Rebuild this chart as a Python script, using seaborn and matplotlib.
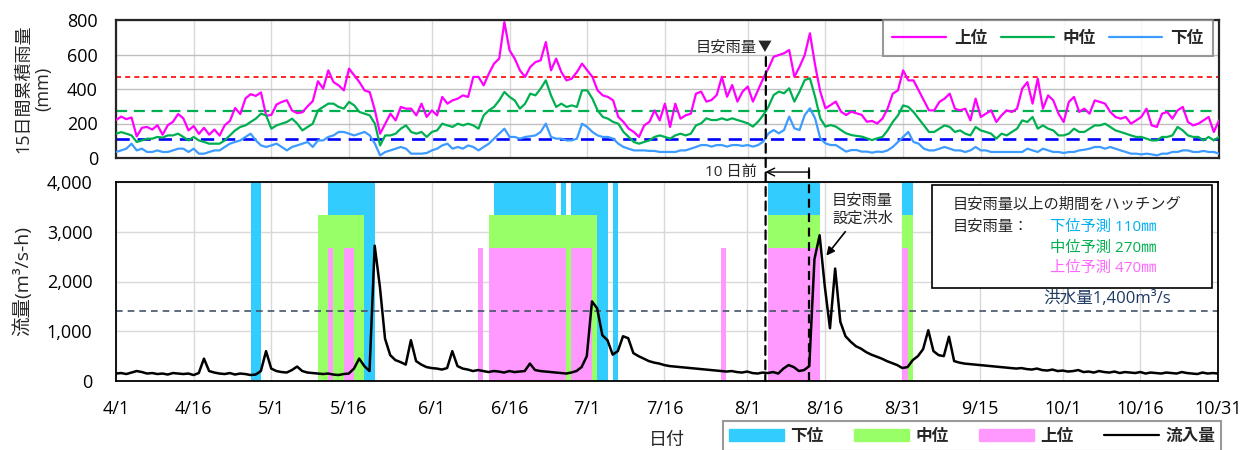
import numpy as np
import pandas as pd
import matplotlib
matplotlib.use("Agg")
import matplotlib.pyplot as plt
import seaborn as sns
from matplotlib.patches import ConnectionPatch, Patch, Rectangle
from matplotlib.lines import Line2D
from matplotlib.ticker import FuncFormatter

# ---------------- data ----------------
YEAR = 2019
start_md = "4/1"
tick_labels = ["4/1", "4/16", "5/1", "5/16", "6/1", "6/16", "7/1", "7/16",
               "8/1", "8/16", "8/31", "9/15", "10/1", "10/16", "10/31"]
series_names = ["上位", "中位", "下位"]

# 15-day accumulated rainfall (mm), daily from 4/1 to 10/31
rain_upper = [
    220, 240, 225, 235, 125, 175, 180, 165, 190, 135,
    190, 210, 255, 230, 160, 185, 140, 175, 135, 165,
    130, 190, 215, 290, 255, 345, 370, 360, 380, 245,
    250, 310, 325, 335, 275, 260, 265, 300, 330, 445,
    402, 508, 440, 421, 392, 518, 479, 440, 392, 382,
    276, 141, 199, 257, 218, 296, 286, 286, 247, 315,
    238, 276, 247, 354, 315, 334, 344, 363, 354, 470,
    470, 421, 489, 547, 576, 788, 624, 576, 508, 470,
    528, 556, 566, 672, 508, 576, 498, 450, 460, 498,
    547, 508, 470, 392, 363, 354, 334, 238, 209, 170,
    151, 122, 189, 209, 276, 218, 315, 180, 315, 228,
    247, 257, 373, 385, 327, 336, 365, 471, 355, 423,
    327, 385, 414, 327, 394, 462, 520, 587, 597, 607,
    626, 471, 529, 597, 723, 539, 385, 288, 307, 327,
    269, 249, 269, 259, 250, 210, 215, 200, 228, 286,
    373, 392, 508, 450, 450, 392, 334, 276, 276, 325,
    344, 373, 286, 276, 286, 218, 344, 238, 257, 276,
    209, 247, 276, 267, 286, 402, 440, 315, 460, 286,
    363, 334, 257, 209, 325, 354, 267, 286, 257, 334,
    325, 315, 267, 238, 228, 238, 199, 218, 238, 286,
    189, 180, 257, 267, 228, 276, 296, 209, 189, 199,
    218, 238, 151, 218]
rain_middle = [
    141, 150, 141, 131, 93, 102, 112, 112, 122, 118,
    131, 131, 141, 122, 102, 122, 102, 93, 83, 83,
    83, 102, 131, 160, 180, 189, 209, 228, 257, 247,
    170, 189, 199, 209, 228, 199, 160, 180, 199, 276,
    296, 315, 315, 296, 286, 325, 305, 267, 257, 247,
    199, 73, 131, 131, 141, 170, 189, 151, 141, 151,
    122, 151, 160, 199, 189, 180, 199, 189, 199, 189,
    170, 247, 276, 296, 334, 383, 354, 334, 286, 315,
    373, 363, 402, 450, 363, 296, 315, 296, 305, 296,
    392, 392, 344, 276, 238, 228, 209, 199, 151, 122,
    93, 83, 93, 102, 122, 131, 122, 112, 131, 141,
    131, 141, 189, 201, 230, 220, 220, 230, 220, 230,
    220, 211, 201, 182, 211, 249, 298, 365, 385, 375,
    404, 327, 385, 452, 462, 355, 230, 182, 191, 182,
    162, 143, 133, 128, 124, 114, 104, 114, 122, 160,
    209, 247, 305, 296, 267, 228, 189, 151, 151, 170,
    189, 180, 151, 160, 141, 131, 180, 160, 151, 141,
    112, 141, 131, 151, 170, 218, 209, 238, 170, 189,
    170, 160, 131, 131, 141, 170, 151, 151, 170, 189,
    189, 199, 180, 160, 151, 141, 131, 122, 122, 112,
    102, 102, 122, 122, 131, 180, 160, 131, 122, 122,
    102, 122, 102, 122]
rain_lower = [
    35, 44, 54, 83, 44, 54, 35, 35, 44, 35,
    35, 44, 54, 54, 35, 54, 25, 25, 35, 44,
    44, 64, 83, 93, 102, 122, 141, 102, 73, 64,
    73, 83, 64, 44, 64, 73, 83, 93, 64, 102,
    102, 122, 131, 151, 151, 141, 131, 141, 151, 131,
    83, 15, 35, 44, 54, 64, 54, 25, 25, 25,
    29, 44, 54, 73, 83, 54, 64, 54, 73, 64,
    44, 64, 83, 112, 141, 170, 122, 122, 112, 122,
    126, 131, 151, 199, 122, 112, 112, 102, 102, 112,
    199, 180, 151, 131, 122, 122, 112, 83, 64, 54,
    44, 44, 44, 41, 41, 35, 35, 35, 35, 44,
    44, 54, 64, 75, 75, 66, 75, 75, 66, 75,
    75, 70, 75, 66, 75, 95, 143, 162, 143, 162,
    240, 172, 162, 249, 288, 230, 114, 85, 75, 75,
    56, 37, 46, 46, 37, 37, 31, 37, 35, 44,
    64, 93, 122, 151, 93, 83, 54, 44, 44, 54,
    64, 54, 44, 44, 35, 44, 64, 44, 44, 35,
    35, 35, 35, 35, 35, 35, 54, 44, 35, 54,
    44, 35, 35, 29, 35, 35, 44, 48, 54, 64,
    64, 54, 64, 54, 44, 35, 25, 25, 21, 25,
    21, 15, 25, 25, 35, 35, 44, 44, 35, 35,
    41, 35, 35, 25]

# inflow (m3/s), daily
inflow = [
    150, 160, 140, 170, 200, 180, 150, 160, 140, 150,
    130, 160, 150, 140, 150, 120, 160, 450, 200, 170,
    150, 140, 160, 130, 150, 140, 120, 130, 200, 600,
    250, 200, 180, 170, 220, 290, 200, 170, 160, 150,
    140, 150, 130, 120, 140, 150, 250, 450, 300, 200,
    2720, 1900, 850, 520, 420, 380, 330, 820, 400, 330,
    280, 260, 250, 230, 260, 600, 300, 250, 230, 200,
    220, 200, 180, 200, 190, 170, 200, 180, 190, 200,
    350, 220, 200, 190, 180, 170, 160, 150, 170, 200,
    280, 500, 1600, 1460, 920, 820, 530, 600, 900, 860,
    560, 500, 450, 400, 370, 350, 320, 300, 290, 280,
    270, 260, 250, 240, 230, 220, 210, 200, 190, 200,
    180, 170, 190, 160, 150, 170, 160, 180, 150, 250,
    320, 280, 200, 220, 300, 2450, 2930, 1900, 1060, 2260,
    1190, 900, 790, 700, 650, 580, 530, 490, 450, 400,
    360, 320, 260, 280, 420, 500, 640, 1020, 600, 520,
    500, 890, 400, 370, 350, 340, 330, 320, 310, 300,
    290, 280, 270, 260, 250, 260, 240, 230, 250, 220,
    210, 230, 200, 210, 190, 200, 220, 180, 190, 170,
    200, 180, 170, 190, 160, 180, 170, 160, 180, 150,
    170, 160, 150, 170, 160, 150, 180, 160, 150, 140,
    170, 150, 160, 150]

thresholds = [470, 270, 110]      # 上位, 中位, 下位 (mm)
flood_flow = 1400

# periods where rainfall >= threshold (inclusive dates)
lower_start = ["4/27", "5/12", "6/13", "6/26", "6/28", "7/6", "8/5", "8/31"]
lower_end = ["4/28", "5/20", "6/24", "6/26", "7/4", "7/6", "8/14", "9/1"]
middle_start = ["5/10", "6/12", "8/5", "8/31"]
middle_end = ["5/18", "7/2", "8/14", "9/1"]
upper_start = ["5/12", "5/15", "6/10", "6/12", "6/28", "7/27", "8/5", "8/31"]
upper_end = ["5/12", "5/16", "6/10", "6/26", "7/1", "7/27", "8/14", "8/31"]
band_tops = [4000, 3330, 2670]

for arr in (rain_upper, rain_middle, rain_lower, inflow):
    assert len(arr) == 214, len(arr)


def day_of(md):
    m, d = md.split("/")
    m0, d0 = start_md.split("/")
    return (pd.Timestamp(YEAR, int(m), int(d)) - pd.Timestamp(YEAR, int(m0), int(d0))).days


days = np.arange(len(rain_upper))
tick_pos = [day_of(t) for t in tick_labels]

# ---------------- style ----------------
sns.set_theme(style="white")
plt.rcParams["font.family"] = ["Open Sans", "Noto Sans CJK JP", "DejaVu Sans"]

W, H = 1243, 450
fig = plt.figure(figsize=(W / 100, H / 100), dpi=100)


def fx(px):
    return px / W


def fy(py):
    return 1 - py / H


ax1 = fig.add_axes([fx(116), fy(158), fx(1103), 138 / H])
ax2 = fig.add_axes([fx(116), fy(381), fx(1102), 199 / H])

colors = {"上位": "#FF00FF", "中位": "#00B050", "下位": "#3D9BFF"}

# ---------------- upper panel ----------------
df_rain = pd.DataFrame({
    "day": np.concatenate([days, days, days]),
    "value": rain_upper + rain_middle + rain_lower,
    "rank": ["上位"] * len(days) + ["中位"] * len(days) + ["下位"] * len(days),
})
sns.lineplot(data=df_rain, x="day", y="value", hue="rank", hue_order=series_names,
             palette=colors, ax=ax1, legend=False, linewidth=1.6, zorder=3)

ax1.axhline(thresholds[0], color="#FF0000", ls=(0, (3, 2.5)), lw=1.2, zorder=2)
ax1.axhline(thresholds[1], color="#00B050", ls=(0, (5, 3)), lw=1.6, zorder=2)
ax1.axhline(thresholds[2], color="#0000FF", ls=(0, (5, 3)), lw=1.9, zorder=2)

ax1.set_xlim(0, days[-1])
ax1.set_ylim(0, 800)
ax1.set_yticks([0, 200, 400, 600, 800])
ax1.set_xticks(tick_pos)
ax1.set_xticklabels([])
ax1.set_xlabel("")
ax1.set_ylabel("")
ax1.xaxis.grid(True, color="#D9D9D9", lw=1)
ax1.yaxis.grid(True, color="#BFBFBF", lw=1)
ax1.set_axisbelow(True)
ax1.tick_params(axis="both", length=0, labelsize=13, colors="black")
ax1.tick_params(axis="y", pad=13)
for s in ax1.spines.values():
    s.set_color("#262626")
    s.set_linewidth(1.6)

leg_handles = [Line2D([], [], color=colors[n], lw=1.6) for n in series_names]
leg1 = ax1.legend(leg_handles, series_names, ncol=3, loc="upper right",
                  bbox_to_anchor=(fx(1213), fy(20)), bbox_transform=fig.transFigure,
                  frameon=True, fancybox=False, prop={"weight": "bold", "size": 12},
                  handlelength=3.2, handletextpad=0.5, columnspacing=0.8,
                  borderpad=0.55, borderaxespad=0, edgecolor="#808080")
leg1.get_frame().set_linewidth(1.5)
leg1.set_zorder(10)

# ---------------- lower panel ----------------
band_specs = [(lower_start, lower_end, band_tops[0], "#33CCFF"),
              (middle_start, middle_end, band_tops[1], "#99FF66"),
              (upper_start, upper_end, band_tops[2], "#FF99FF")]
for starts, ends, top, col in band_specs:
    s_idx = np.array([day_of(s) for s in starts])
    e_idx = np.array([day_of(e) for e in ends]) + 1
    ax2.bar(s_idx, [top] * len(s_idx), width=e_idx - s_idx, align="edge",
            color=col, linewidth=0, zorder=1)

ax2.axhline(flood_flow, color="#44546A", ls=(0, (4, 3)), lw=1.2, zorder=2)
sns.lineplot(x=days, y=inflow, color="black", linewidth=1.8, ax=ax2, zorder=3)

ax2.set_xlim(0, days[-1])
ax2.set_ylim(0, 4000)
ax2.set_yticks([0, 1000, 2000, 3000, 4000])
ax2.yaxis.set_major_formatter(FuncFormatter(lambda v, p: f"{int(v):,}"))
ax2.set_xticks(tick_pos)
ax2.set_xticklabels(tick_labels)
ax2.set_xlabel("")
ax2.set_ylabel("")
ax2.grid(True, color="#D9D9D9", lw=1)
ax2.set_axisbelow(True)
ax2.tick_params(axis="both", length=0, labelsize=13, colors="black")
ax2.tick_params(axis="y", pad=17)
ax2.tick_params(axis="x", pad=14)
for s in ax2.spines.values():
    s.set_color("black")
    s.set_linewidth(1.3)

# flood level text
ax2.text(179.3, 1640, "洪水量1,400m³/s", color="#1F3864", fontsize=12,
         ha="left", va="center", zorder=5)

# hatching explanation box
fig.add_artist(Rectangle((fx(932), fy(288)), fx(280), 103 / H, transform=fig.transFigure,
                         facecolor="white", edgecolor="black", lw=1.2, zorder=5))
fig.text(fx(953), fy(205), "目安雨量以上の期間をハッチング", fontsize=11, va="center",
         ha="left", zorder=6)
fig.text(fx(953), fy(227), "目安雨量：", fontsize=11, va="center", ha="left", zorder=6)
fig.text(fx(1050), fy(227), "下位予測 110㎜", fontsize=11, va="center", ha="left",
         color="#00B0F0", zorder=6)
fig.text(fx(1050), fy(248), "中位予測 270㎜", fontsize=11, va="center", ha="left",
         color="#00B050", zorder=6)
fig.text(fx(1050), fy(268), "上位予測 470㎜", fontsize=11, va="center", ha="left",
         color="#FF66FF", zorder=6)

# reference markers
mark_days = [125.5, 134.0]
con = ConnectionPatch(xyA=(mark_days[0], 585), coordsA=ax1.transData,
                      xyB=(mark_days[0], 0), coordsB=ax2.transData,
                      color="black", lw=1.6, ls=(0, (4, 2.5)), zorder=8)
fig.add_artist(con)
ax2.plot([mark_days[1], mark_days[1]], [0, 4280], color="black", lw=1.6,
         ls=(0, (4, 2.5)), clip_on=False, zorder=8)
ax2.annotate("", xy=(mark_days[0], 4200), xytext=(mark_days[1], 4200),
             arrowprops=dict(arrowstyle="->", color="black", lw=1.0,
                             shrinkA=0, shrinkB=0, mutation_scale=14),
             annotation_clip=False)
ax2.plot([mark_days[1], mark_days[1]], [4130, 4280], color="black", lw=1.2,
         clip_on=False)
fig.text(fx(757), fy(172), "10 日前", fontsize=11, ha="right", va="center")
fig.text(fx(757), fy(48), "目安雨量", fontsize=11, ha="right", va="center")
fig.text(fx(765), fy(48), "▼", fontsize=10, ha="center", va="center")

ax2.annotate("目安雨量\n設定洪水", xy=(137.3, 2520), xytext=(144.3, 3440),
             ha="center", va="center", fontsize=11, linespacing=1.25,
             arrowprops=dict(arrowstyle="-|>", color="black", lw=1.2,
                             mutation_scale=12, shrinkA=2, shrinkB=0),
             zorder=6)

# axis labels
fig.text(fx(33), fy(89), "15日間累積雨量\n(mm)", rotation=90, fontsize=13,
         ha="center", va="center", multialignment="center", linespacing=1.15)
fig.text(fx(23), fy(281), "流量(m³/s-h)", rotation=90, fontsize=14,
         ha="center", va="center")
fig.text(fx(667), fy(440), "日付", fontsize=13, ha="center", va="center")

# bottom legend
bottom_handles = [Patch(color="#33CCFF"), Patch(color="#99FF66"), Patch(color="#FF99FF"),
                  Line2D([], [], color="black", lw=1.6)]
leg2 = fig.legend(bottom_handles, ["下位", "中位", "上位", "流入量"], ncol=4,
                  loc="upper left", bbox_to_anchor=(fx(723), fy(421)),
                  frameon=True, fancybox=False, prop={"weight": "bold", "size": 12},
                  handlelength=3.3, handleheight=0.7, handletextpad=0.4,
                  columnspacing=1.8, borderpad=0.35, borderaxespad=0,
                  edgecolor="#808080")
leg2.get_frame().set_linewidth(1.5)

fig.savefig("out.png", dpi=100)
